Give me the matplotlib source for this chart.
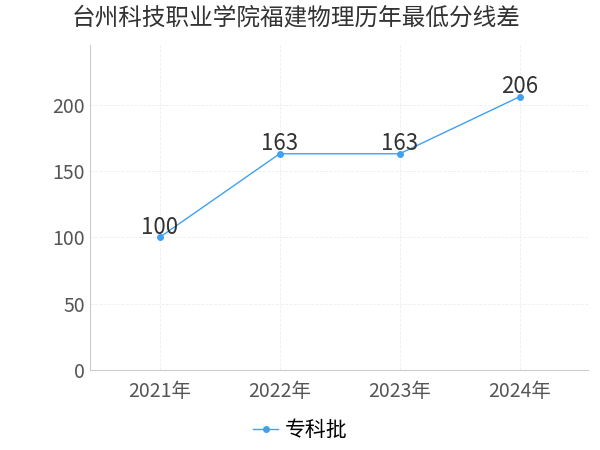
import matplotlib.pyplot as plt

plt.rcParams['font.family'] = ['Noto Sans CJK SC', 'DejaVu Sans']

years = ["2021年", "2022年", "2023年", "2024年"]
scores = [100, 163, 163, 206]
series_name = "专科批"
title = "台州科技职业学院福建物理历年最低分线差"

fig = plt.figure(figsize=(6, 4.5), dpi=100)
ax = fig.add_axes([90 / 600, 1 - 370 / 450, 498 / 600, 325 / 450])

color = "#3fa0f5"
x = list(range(len(years)))
ax.plot(x, scores, color=color, linewidth=1, marker="o", markersize=4, label=series_name)
for xi, v in zip(x, scores):
    ax.text(xi, v - 1, str(v), ha="center", va="bottom", fontsize=16, color="#333333")

ax.set_xlim(-0.58, 3.57)
ax.set_ylim(0, 245)
ax.set_yticks([0, 50, 100, 150, 200])
ax.set_xticks(x)
ax.set_xticklabels(years)
ax.tick_params(axis="both", labelsize=14, colors="#555555", length=0)
ax.tick_params(axis="x", pad=8)
ax.grid(True, color="#eeeeee", linestyle="--", linewidth=0.6)
for s in ["top", "right"]:
    ax.spines[s].set_visible(False)
ax.spines["left"].set_color("#cccccc")
ax.spines["bottom"].set_color("#cccccc")

fig.text(72 / 600, 1 - 18 / 450, title, fontsize=17, color="#333333", va="center", ha="left")
fig.legend(loc="center", bbox_to_anchor=(0.5, 1 - 430 / 450), frameon=False, fontsize=15,
           handlelength=1.2, handletextpad=0.3)

fig.savefig("out.png")
